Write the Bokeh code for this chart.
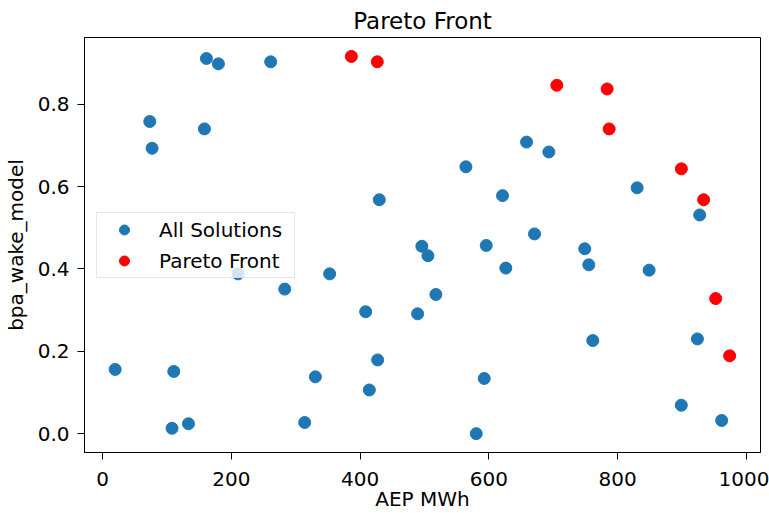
from bokeh.plotting import figure
from bokeh.models import Range1d, FixedTicker, PrintfTickFormatter, Legend, LegendItem
from bokeh.embed import file_html
from bokeh.resources import INLINE

# All solutions (AEP MWh, bpa_wake_model)
all_aep = [161.4, 180.0, 261.2, 73.4, 77.0, 158.3, 429.9, 658.6, 693.2, 564.4,
           830.4, 927.5, 621.3, 671.0, 596.0, 749.0, 496.0, 505.4, 210.5, 283.0,
           352.8, 408.7, 427.3, 330.6, 414.4, 314.0, 19.6, 110.7, 108.0, 133.5,
           626.4, 755.3, 849.0, 517.8, 489.4, 924.0, 761.5, 592.9, 899.0, 961.7,
           580.5]
all_bpa = [0.911, 0.898, 0.903, 0.758, 0.693, 0.740, 0.568, 0.708, 0.684, 0.648,
           0.597, 0.531, 0.578, 0.485, 0.457, 0.449, 0.455, 0.432, 0.388, 0.351,
           0.388, 0.296, 0.179, 0.138, 0.106, 0.027, 0.156, 0.151, 0.013, 0.024,
           0.402, 0.410, 0.397, 0.338, 0.291, 0.230, 0.226, 0.134, 0.069, 0.032,
           0.000]

# Pareto front
pareto_aep = [386.5, 426.8, 705.6, 783.8, 786.9, 899.1, 933.7, 952.4, 974.1]
pareto_bpa = [0.916, 0.903, 0.846, 0.837, 0.740, 0.643, 0.568, 0.328, 0.189]

x_ticks = [0, 200, 400, 600, 800, 1000]
y_ticks = [0.0, 0.2, 0.4, 0.6, 0.8]

FONT = "DejaVu Sans"

p = figure(width=769, height=513, output_backend="svg", toolbar_location=None,
           x_range=Range1d(-28, 1022), y_range=Range1d(-0.0458, 0.962),
           min_border_left=84, min_border_right=9, min_border_top=37,
           min_border_bottom=61, title="Pareto Front")

p.title.align = "center"
p.title.text_font = FONT
p.title.text_font_size = "23px"
p.title.text_font_style = "normal"
p.title.text_color = "black"
p.title.standoff = 8

p.grid.visible = False
p.outline_line_color = "black"
p.outline_line_width = 1
p.background_fill_color = "white"
p.border_fill_color = "white"

for ax in (p.xaxis, p.yaxis):
    ax.major_tick_out = 7
    ax.major_tick_in = 0
    ax.minor_tick_out = 0
    ax.minor_tick_in = 0
    ax.major_tick_line_color = "black"
    ax.axis_line_color = "black"
    ax.major_label_text_font = FONT
    ax.major_label_text_font_size = "20px"
    ax.major_label_text_color = "black"
    ax.axis_label_text_font = FONT
    ax.axis_label_text_font_size = "20px"
    ax.axis_label_text_font_style = "normal"
    ax.axis_label_text_color = "black"

p.xaxis.ticker = FixedTicker(ticks=x_ticks)
p.yaxis.ticker = FixedTicker(ticks=y_ticks)
p.yaxis.formatter = PrintfTickFormatter(format="%.1f")
p.xaxis.axis_label = "AEP MWh"
p.yaxis.axis_label = "bpa_wake_model"
p.xaxis.major_label_standoff = 12
p.yaxis.major_label_standoff = 8
p.xaxis.axis_label_standoff = -2
p.yaxis.axis_label_standoff = 7

r_all = p.scatter(all_aep, all_bpa, size=12, color="#1f77b4", line_color="#1f77b4")
r_par = p.scatter(pareto_aep, pareto_bpa, size=12, color="#ff0000", line_color="#ff0000")

legend = Legend(items=[LegendItem(label="All Solutions", renderers=[r_all]),
                       LegendItem(label="Pareto Front", renderers=[r_par])],
                location=(12, 174))
legend.label_text_font = FONT
legend.label_text_font_size = "20px"
legend.label_text_color = "black"
legend.padding = 4
legend.spacing = 6
legend.margin = 0
legend.glyph_width = 46
legend.glyph_height = 25
legend.label_height = 25
legend.label_width = 131
legend.label_standoff = 12
legend.border_line_color = "#cccccc"
legend.border_line_width = 1
legend.background_fill_color = "white"
legend.background_fill_alpha = 0.8
p.add_layout(legend, "center")

open("out.html", "w").write(file_html(p, INLINE))
